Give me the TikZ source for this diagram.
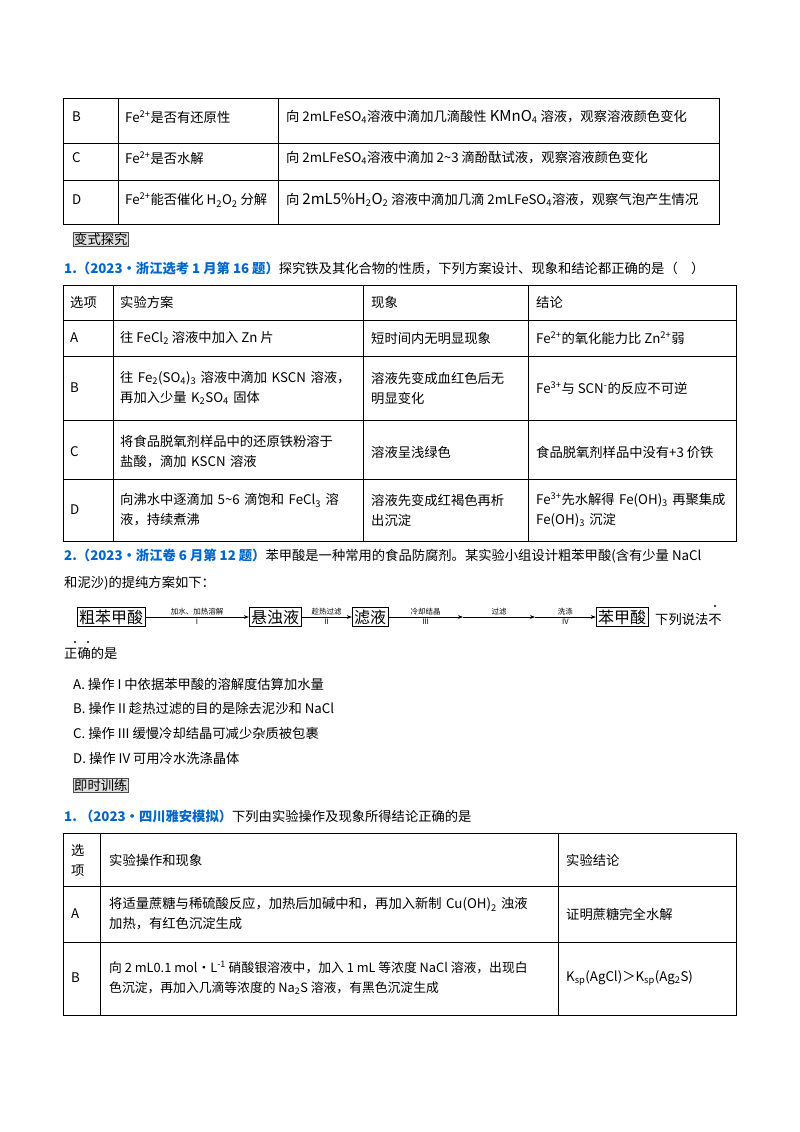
\documentclass[tikz,border=0pt]{standalone}
\usepackage{fontspec}
\setmainfont{Noto Sans CJK SC}
\usetikzlibrary{arrows.meta}
\definecolor{qb}{RGB}{0,102,204}
\newcommand{\xsb}[1]{\textsubscript{#1}}
\newcommand{\xsp}[1]{\textsuperscript{#1}}
\begin{document}
\begin{tikzpicture}[x=1pt,y=-1pt,font=\fontsize{13.3}{20}\selectfont,
  tl/.style={line width=0.9pt},
  cell/.style={anchor=west,inner sep=0pt,align=left},
  lab/.style={draw,gray!60!black,fill=gray!25,inner sep=1pt,anchor=west,text=black},
  fbox/.style={draw,inner sep=2pt,font=\fontsize{16}{18}\selectfont},
  arr/.style={-{Stealth[length=5pt]},line width=0.6pt},
  al/.style={font=\fontsize{7.5}{8}\selectfont,inner sep=1.5pt}]
\useasboundingbox (0,0) rectangle (800,1132);
% table 1
\draw[tl] (63,98) rectangle (719,224);
\foreach \y in {143,180} \draw[tl] (63,\y)--(719,\y);
\foreach \x in {118,278} \draw[tl] (\x,98)--(\x,224);
\node[cell] (t1b1) at (72,117) {B};
\node[cell] (t1b2) at (125,117) {Fe\xsp{2+}是否有还原性};
\node[cell] (t1b3) at (286,117) {向 2mLFeSO\xsb{4}溶液中滴加几滴酸性 {\fontsize{15}{18}\selectfont KMnO}\xsb{4} 溶液，观察溶液颜色变化};
\node[cell] (t1c1) at (72,158) {C};
\node[cell] (t1c2) at (125,158) {Fe\xsp{2+}是否水解};
\node[cell] (t1c3) at (286,158) {向 2mLFeSO\xsb{4}溶液中滴加 2\textasciitilde3 滴酚酞试液，观察溶液颜色变化};
\node[cell] (t1d1) at (72,200) {D};
\node[cell] (t1d2) at (125,200) {Fe\xsp{2+}能否催化 H\xsb{2}O\xsb{2} 分解};
\node[cell] (t1d3) at (286,200) {向 {\fontsize{15}{18}\selectfont 2mL5\%H}\xsb{2}{\fontsize{15}{18}\selectfont O}\xsb{2} 溶液中滴加几滴 2mLFeSO\xsb{4}溶液，观察气泡产生情况};
\node[lab] (l1) at (73,239) {变式探究};
% question 1
\node[cell] (q1) at (64,268) {\textcolor{qb}{\bfseries 1.（2023·浙江选考 1 月第 16 题）}探究铁及其化合物的性质，下列方案设计、现象和结论都正确的是（\quad）};
% table 2
\draw[tl] (63,285) rectangle (736,541);
\foreach \y in {320,356,420,479} \draw[tl] (63,\y)--(736,\y);
\foreach \x in {113,363,528} \draw[tl] (\x,285)--(\x,541);
\node[cell] (h1) at (70,302) {选项};
\node[cell] (h2) at (120,302) {实验方案};
\node[cell] (h3) at (371,302) {现象};
\node[cell] (h4) at (536,302) {结论};
\node[cell] (a1) at (70,338) {A};
\node[cell] (a2) at (120,338) {往 FeCl\xsb{2} 溶液中加入 Zn 片};
\node[cell] (a3) at (371,338) {短时间内无明显现象};
\node[cell] (a4) at (536,338) {Fe\xsp{2+}的氧化能力比 Zn\xsp{2+}弱};
\node[cell] (b1) at (70,388) {B};
\node[cell,text width=238] (b2) at (120,388) {往 Fe\xsb{2}(SO\xsb{4})\xsb{3} 溶液中滴加 KSCN 溶液，\\再加入少量 K\xsb{2}SO\xsb{4} 固体};
\node[cell,text width=155] (b3) at (371,388) {溶液先变成血红色后无\\明显变化};
\node[cell] (b4) at (536,388) {Fe\xsp{3+}与 SCN\xsp{-}的反应不可逆};
\node[cell] (c1) at (70,452) {C};
\node[cell,text width=238] (c2) at (120,452) {将食品脱氧剂样品中的还原铁粉溶于\\盐酸，滴加 KSCN 溶液};
\node[cell] (c3) at (371,452) {溶液呈浅绿色};
\node[cell] (c4) at (536,452) {食品脱氧剂样品中没有+3 价铁};
\node[cell] (d1) at (70,510) {D};
\node[cell,text width=238] (d2) at (120,510) {向沸水中逐滴加 5\textasciitilde6 滴饱和 FeCl\xsb{3} 溶\\液，持续煮沸};
\node[cell,text width=155] (d3) at (371,510) {溶液先变成红褐色再析\\出沉淀};
\node[cell,text width=198] (d4) at (536,510) {Fe\xsp{3+}先水解得 Fe(OH)\xsb{3} 再聚集成\\Fe(OH)\xsb{3} 沉淀};
% question 2
\node[cell] (q2) at (64,556) {\textcolor{qb}{\bfseries 2.（2023·浙江卷 6 月第 12 题）}苯甲酸是一种常用的食品防腐剂。某实验小组设计粗苯甲酸(含有少量 NaCl};
\node[cell] (q2b) at (64,583) {和泥沙)的提纯方案如下：};
\node[fbox] (f1) at (111,617) {粗苯甲酸};
\node[fbox] (f2) at (275,617) {悬浊液};
\node[fbox] (f3) at (370,617) {滤液};
\coordinate (f4) at (463,617);
\coordinate (f5) at (535,617);
\node[fbox] (f6) at (622,617) {苯甲酸};
\draw[arr] (f1) -- node[al,above]{加水、加热溶解} node[al,below]{I} (f2);
\draw[arr] (f2) -- node[al,above]{趁热过滤} node[al,below]{II} (f3);
\draw[arr] (f3) -- node[al,above]{冷却结晶} node[al,below]{III} (f4);
\draw[arr] (f4) -- node[al,above]{过滤} (f5);
\draw[arr] (f5) -- node[al,above]{洗涤} node[al,below]{IV} (f6);
\node[cell] (q2c) at (655,619) {下列说法不};
\fill (715,606) circle (1.2pt);
\node[cell] (q2d) at (64,653) {正确的是};
\fill (75,642) circle (1.2pt);
\fill (88,642) circle (1.2pt);
\node[cell] (oA) at (73,684) {A.\ 操作 I 中依据苯甲酸的溶解度估算加水量};
\node[cell] (oB) at (73,708) {B.\ 操作 II 趁热过滤的目的是除去泥沙和 NaCl};
\node[cell] (oC) at (73,733) {C.\ 操作 III 缓慢冷却结晶可减少杂质被包裹};
\node[cell] (oD) at (73,758) {D.\ 操作 IV 可用冷水洗涤晶体};
\node[lab] (l2) at (73,785) {即时训练};
\node[cell] (q3) at (64,816) {\textcolor{qb}{\bfseries 1.\ （2023·四川雅安模拟）}下列由实验操作及现象所得结论正确的是};
% table 3
\draw[tl] (63,833) rectangle (736,1015);
\foreach \y in {886,942} \draw[tl] (63,\y)--(736,\y);
\foreach \x in {100,558} \draw[tl] (\x,833)--(\x,1015);
\node[cell] (g1) at (71,860) {选\\项};
\node[cell] (g2) at (109,860) {实验操作和现象};
\node[cell] (g3) at (566,860) {实验结论};
\node[cell] (e1) at (71,914) {A};
\node[cell,text width=445] (e2) at (109,914) {将适量蔗糖与稀硫酸反应，加热后加碱中和，再加入新制 Cu(OH)\xsb{2} 浊液\\加热，有红色沉淀生成};
\node[cell] (e3) at (566,914) {证明蔗糖完全水解};
\node[cell] (k1) at (71,978) {B};
\node[cell,font=\fontsize{12.8}{20}\selectfont] (k2) at (109,978) {\begin{tabular}{@{}l@{}}向 2 mL0.1 mol·L\xsp{-1} 硝酸银溶液中，加入 1 mL 等浓度 NaCl 溶液，出现白\\色沉淀，再加入几滴等浓度的 Na\xsb{2}S 溶液，有黑色沉淀生成\end{tabular}};
\node[cell] (k3) at (566,978) {\textit{K}\xsb{sp}(AgCl)＞\textit{K}\xsb{sp}(Ag\xsb{2}S)};
\end{tikzpicture}
\end{document}
